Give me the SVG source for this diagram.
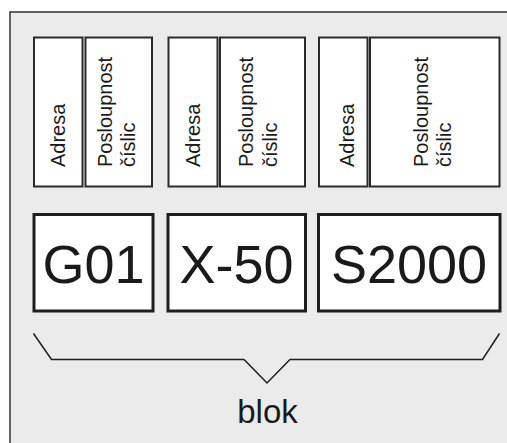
<svg xmlns="http://www.w3.org/2000/svg" width="507" height="443" viewBox="0 0 507 443">
<style>
.bg{fill:#ebebeb;stroke:#333;stroke-width:1.5}
.cell{fill:#fff;stroke:#2a2a2a;stroke-width:2}
.blk{fill:#fff;stroke:#1e1e1e;stroke-width:3}
.t{font-family:"Liberation Sans",Arial,sans-serif;fill:#1a1a1a}
.small{font-size:20px}
.big{font-size:54px;text-anchor:middle}
.brace{fill:none;stroke:#1e1e1e;stroke-width:1.5}
</style>
<rect class="bg" x="10" y="12" width="520" height="450"/>
<g id="adresa1"><rect class="cell" x="34" y="37.5" width="48.5" height="149"/><text class="t small" transform="translate(65,167) rotate(-90)">Adresa</text></g>
<g id="posl1"><rect class="cell" x="85.5" y="37.5" width="66.5" height="149"/><text class="t small" transform="translate(112,167) rotate(-90)">Posloupnost</text><text class="t small" transform="translate(135,167) rotate(-90)">číslic</text></g>
<g id="adresa2"><rect class="cell" x="168.5" y="37.5" width="49" height="149"/><text class="t small" transform="translate(200,167) rotate(-90)">Adresa</text></g>
<g id="posl2"><rect class="cell" x="220" y="37.5" width="85" height="149"/><text class="t small" transform="translate(253,167) rotate(-90)">Posloupnost</text><text class="t small" transform="translate(277,167) rotate(-90)">číslic</text></g>
<g id="adresa3"><rect class="cell" x="319" y="37.5" width="48.5" height="149"/><text class="t small" transform="translate(354,167) rotate(-90)">Adresa</text></g>
<g id="posl3"><rect class="cell" x="370" y="37.5" width="129.5" height="149"/><text class="t small" transform="translate(428,167) rotate(-90)">Posloupnost</text><text class="t small" transform="translate(451,167) rotate(-90)">číslic</text></g>
<g id="g01"><rect class="blk" x="34" y="214.5" width="119" height="96.5"/><text class="t big" x="93.5" y="283">G01</text></g>
<g id="x50"><rect class="blk" x="168" y="214.5" width="137.5" height="96.5"/><text class="t big" x="236.5" y="283">X-50</text></g>
<g id="s2000"><rect class="blk" x="318.5" y="214.5" width="181.5" height="96.5"/><text class="t big" x="409" y="283">S2000</text></g>
<g id="connectors"><path class="brace" d="M33.5,333.5 L51.5,359.5 L244,359.5 L267,383 L290,359.5 L482.5,359.5 L499.5,333.5"/></g>
<g id="blok"><text class="t" x="267.5" y="422.7" font-size="33" text-anchor="middle">blok</text></g>
</svg>
